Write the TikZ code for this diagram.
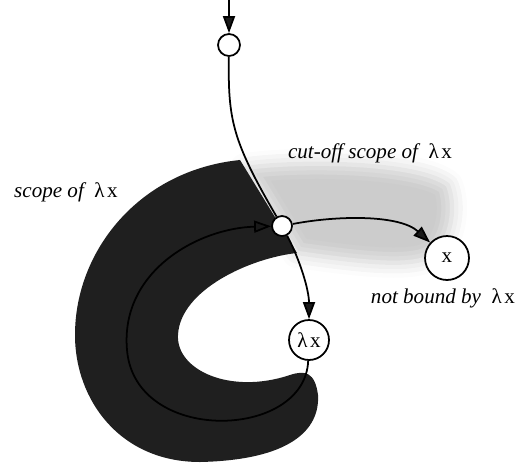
\documentclass[tikz,border=0pt]{standalone}
\usepackage{fontspec}
\setmainfont{Liberation Serif}
\usetikzlibrary{arrows.meta,shadows.blur}

\newcommand{\lx}{{\upshape λ\kern1.5pt x}}

\begin{document}
\begin{tikzpicture}[x=0.02cm, y=-0.02cm,
  vnode/.style={circle, draw, line width=1pt, fill=white, inner sep=0pt, minimum size=#1,
    font=\fontsize{12}{14}\selectfont},
  arr/.style={-{Triangle[length=3.4mm, width=2.4mm]}, line width=1pt},
  lbl/.style={font=\fontsize{12}{14}\selectfont\itshape}
]
  \useasboundingbox (0,0) rectangle (520,470);

  % cut-off part of the scope
  \path[blur shadow={shadow xshift=0pt, shadow yshift=0pt, shadow blur radius=3mm, shadow opacity=20}]
    (245,168) .. controls (300,160) and (420,162) .. (448,185)
    .. controls (456,205) and (452,235) .. (438,250)
    .. controls (425,268) and (380,265) .. (297,253) -- cycle;

  % scope of lambda x
  \fill[black!88] (240,160) -- (297,253)
    .. controls (250,258) and (180,290) .. (178,335)
    .. controls (176,370) and (230,395) .. (290,375)
    .. controls (305,370) and (315,372) .. (318,395)
    .. controls (320,430) and (290,460) .. (200,462)
    .. controls (120,462) and (75,400) .. (75,335)
    .. controls (75,250) and (140,170) .. (240,160) -- cycle;

  \node[vnode=0.44cm] (top) at (229,45) {};
  \node[vnode=0.4cm] (junc) at (282,226) {};
  \node[vnode=0.88cm] (xvar) at (447,258) {x};
  \node[vnode=0.8cm] (lamx) at (309,340) {\lx};
  \coordinate (in) at (229,0);

  \draw[arr] (in) -- (top);
  \draw[line width=1pt] (top) .. controls (228,120) and (232,140) .. (junc);
  \draw[arr] (junc) .. controls (300,260) and (309,290) .. (lamx);
  \draw[arr] (junc) .. controls (340,215) and (400,215) .. (xvar);
  \draw[arr] (lamx) .. controls (305,440) and (135,445) .. (127,350)
    .. controls (120,270) and (200,228) .. (junc);

  \node[lbl] (scopelbl) at (66,192) {scope of\hspace{0.5em}\lx};
  \node[lbl] (cutlbl) at (370,153) {cut-off scope of\hspace{0.5em}\lx};
  \node[lbl] (freelbl) at (443,298) {not bound by\hspace{0.5em}\lx};
\end{tikzpicture}
\end{document}
